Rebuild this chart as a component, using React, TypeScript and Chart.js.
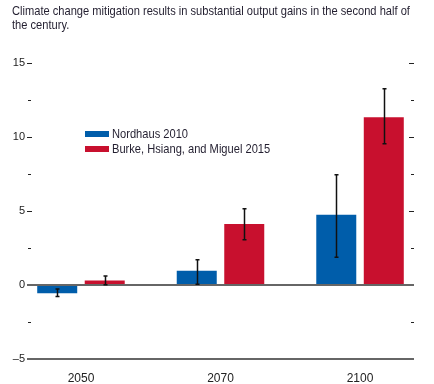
import React, { useEffect, useRef } from "react";
import { Chart, registerables } from "chart.js";

Chart.register(...registerables);

const titleLine1 = "Climate change mitigation results in substantial output gains in the second half of";
const titleLine2 = "the century.";
const categories = ["2050", "2070", "2100"];
const seriesNames = ["Nordhaus 2010", "Burke, Hsiang, and Miguel 2015"];
const seriesColors = ["#005DAA", "#C8102E"];
const nordhaus = [-0.55, 0.97, 4.75];
const nordhausLow = [-0.78, 0.05, 1.88];
const nordhausHigh = [-0.27, 1.7, 7.45];
const burke = [0.3, 4.13, 11.34];
const burkeLow = [0.02, 3.05, 9.54];
const burkeHigh = [0.6, 5.15, 13.26];
const yMin = -5;
const yMax = 15;
const yStep = 2.5;
const yLabelStep = 5;

const FONT = "'Liberation Sans', Arial, sans-serif";

const lows = [nordhausLow, burkeLow];
const highs = [nordhausHigh, burkeHigh];

const errorBarPlugin = {
  id: "errorBars",
  afterDatasetsDraw(chart: any) {
    const ctx = chart.ctx;
    const yScale = chart.scales.y;
    ctx.save();
    ctx.strokeStyle = "#111";
    chart.data.datasets.forEach((_: any, di: number) => {
      const meta = chart.getDatasetMeta(di);
      meta.data.forEach((el: any, j: number) => {
        const x = Math.round(el.x) + 0.5;
        const y1 = yScale.getPixelForValue(lows[di][j]);
        const y2 = yScale.getPixelForValue(highs[di][j]);
        ctx.lineWidth = 1.5;
        ctx.beginPath();
        ctx.moveTo(x, y1);
        ctx.lineTo(x, y2);
        ctx.stroke();
        ctx.beginPath();
        ctx.moveTo(x - 2, y1);
        ctx.lineTo(x + 2, y1);
        ctx.moveTo(x - 2, y2);
        ctx.lineTo(x + 2, y2);
        ctx.stroke();
      });
    });
    ctx.restore();
  },
};

const isMajor = (v: number) => Math.abs(v % yLabelStep) < 1e-6;
const isBase = (v: number) => Math.abs(v) < 1e-6 || Math.abs(v - yMin) < 1e-6;

function yAxis(position: "left" | "right", width: number, showLabels: boolean, minorOffset: number) {
  return {
    type: "linear",
    position,
    min: yMin,
    max: yMax,
    afterBuildTicks: (scale: any) => {
      const t = [];
      for (let v = yMin; v <= yMax + 1e-6; v += yStep) t.push({ value: v });
      scale.ticks = t;
    },
    afterFit: (scale: any) => {
      scale.width = width;
    },
    border: { display: false },
    grid: {
      drawOnChartArea: position === "left",
      drawTicks: true,
      tickLength: 5,
      color: (c: any) => (c.tick && isBase(c.tick.value) ? "#666" : "rgba(0,0,0,0)"),
      lineWidth: (c: any) => (c.tick && isBase(c.tick.value) ? 2 : 1),
      tickColor: (c: any) => (c.tick && isBase(c.tick.value) ? "#666" : "#222"),
      tickWidth: (c: any) => (c.tick && isBase(c.tick.value) ? 2 : 1),
      tickBorderDash: (c: any) => (c.tick && !isMajor(c.tick.value) ? [3, 30] : []),
      tickBorderDashOffset: (c: any) => (c.tick && !isMajor(c.tick.value) ? minorOffset : 0),
    },
    ticks: {
      padding: 2,
      color: "#222",
      font: { family: FONT, size: 11 },
      callback: (v: number) =>
        showLabels && isMajor(v) ? (v < 0 ? "\u2013" + Math.abs(v) : String(v)) : "",
    },
  };
}

const condensedText: React.CSSProperties = {
  display: "block",
  fontFamily: FONT,
  fontSize: 13,
  color: "#231f30",
  transform: "scaleX(0.855)",
  transformOrigin: "left center",
  whiteSpace: "nowrap",
};

export default function App() {
  const canvasRef = useRef<HTMLCanvasElement>(null);

  useEffect(() => {
    const canvas = canvasRef.current;
    if (!canvas) return;
    const chart = new Chart(canvas, {
      type: "bar",
      data: {
        datasets: [
          {
            label: seriesNames[0],
            data: nordhaus.map((v, i) => ({ x: i, y: v })),
            backgroundColor: seriesColors[0],
            borderWidth: 0,
            categoryPercentage: 0.681,
            barPercentage: 0.842,
          },
          {
            label: seriesNames[1],
            data: burke.map((v, i) => ({ x: i, y: v })),
            backgroundColor: seriesColors[1],
            borderWidth: 0,
            categoryPercentage: 0.681,
            barPercentage: 0.842,
          },
        ],
      } as any,
      options: {
        responsive: false,
        animation: false,
        devicePixelRatio: 1,
        layout: { padding: { top: 63, left: 0, right: 0, bottom: 0 } },
        plugins: {
          legend: { display: false },
          tooltip: { enabled: false },
          title: { display: false },
        },
        scales: {
          x: {
            type: "linear",
            min: -0.351,
            max: 2.351,
            offset: false,
            afterBuildTicks: (scale: any) => {
              scale.ticks = categories.map((_, i) => ({ value: i }));
            },
            afterFit: (scale: any) => {
              scale.height = 25;
            },
            border: { display: false },
            grid: { display: false },
            ticks: {
              padding: 4,
              color: "#222",
              maxRotation: 0,
              font: { family: FONT, size: 12 },
              callback: (v: number) => categories[Math.round(v)] ?? "",
            },
          },
          y: yAxis("left", 32, true, -1),
          y2: yAxis("right", 25, false, -2),
        } as any,
      },
      plugins: [errorBarPlugin],
    });
    return () => chart.destroy();
  }, []);

  return (
    <div
      style={{
        position: "fixed",
        left: 0,
        top: 0,
        width: 434,
        height: 384,
        background: "#fff",
      }}
    >
      <canvas ref={canvasRef} width={434} height={384} style={{ position: "absolute", left: 0, top: 0 }} />
      <div style={{ position: "absolute", left: 12, top: 4, width: 420, lineHeight: "14px" }}>
        <span style={condensedText}>{titleLine1}</span>
        <span style={condensedText}>{titleLine2}</span>
      </div>
      <div style={{ position: "absolute", left: 85, top: 126 }}>
        {seriesNames.map((n, i) => (
          <div key={n} style={{ display: "flex", alignItems: "center", height: 15 }}>
            <span
              style={{
                display: "inline-block",
                width: 24,
                height: 6,
                background: seriesColors[i],
                marginRight: 3,
                flex: "none",
              }}
            />
            <span style={{ ...condensedText, display: "inline-block" }}>{n}</span>
          </div>
        ))}
      </div>
    </div>
  );
}
